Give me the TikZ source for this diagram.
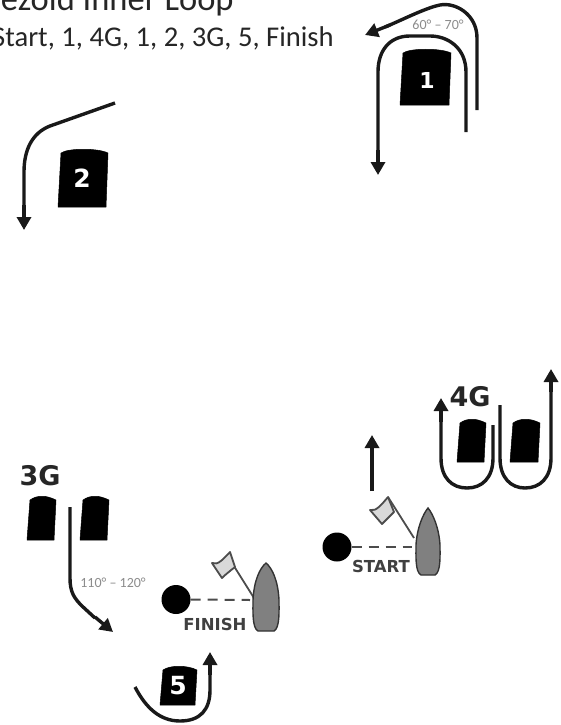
\documentclass[tikz,border=0pt]{standalone}
\usepackage{fontspec}
\setmainfont{Carlito}
\newfontfamily\markfont{DejaVu Sans}
\usetikzlibrary{arrows.meta}
\definecolor{boatgray}{gray}{0.5}
\definecolor{flaggray}{gray}{0.85}
\definecolor{anglegray}{gray}{0.55}
\tikzset{
  course/.style={line width=3.4pt,draw=black!90},
  arrowed/.style={course,-{Triangle[length=13pt,width=14pt]}},
  markshape/.style={fill=black,draw=black,line width=.5pt,line join=round},
  marknum/.style={text=white,font=\markfont\bfseries\fontsize{25}{25}\selectfont,inner sep=0pt},
  gatelabel/.style={text=black!85,font=\markfont\bfseries\fontsize{27}{27}\selectfont,inner sep=0pt},
  linelabel/.style={text=black!75,font=\markfont\bfseries\fontsize{16.5}{17}\selectfont,inner sep=0pt},
  anglelabel/.style={text=anglegray,font=\fontsize{14}{14}\selectfont,inner sep=0pt},
  titletext/.style={text=black!85,anchor=base west,inner sep=0pt},
  boat/.style={fill=boatgray,draw=black!80,line width=1.4pt},
  flag/.style={fill=flaggray,draw=black!70,line width=1.8pt,line join=round},
  pole/.style={draw=black!70,line width=1.8pt},
  lineset/.style={draw=black!70,line width=2pt,dash pattern=on 10pt off 7pt},
  pin/.style={circle,fill=black,minimum size=29pt,inner sep=0pt}
}
\newcommand{\markat}[4]{% left x, top y, right x, bottom y
  \fill[markshape] (#1+3,#4) -- (#1,#4) -- (#1+3,#2+5) .. controls (#1+10,#2) and (#3-10,#2) .. (#3,#2+5) -- (#3-2,#4) -- cycle;}
\begin{document}
\begin{tikzpicture}[x=1pt,y=-1pt]
\useasboundingbox (0,0) rectangle (560,725);
% title (cut by the page edge, as in the reference)
\node[titletext,font=\fontsize{34.5}{35}\selectfont] (title) at (-18,10.5) {Bezold Inner Loop};
\node[titletext,font=\fontsize{28.6}{29}\selectfont] (sequence) at (-8,46.5) {Start, 1, 4G, 1, 2, 3G, 5, Finish};
% mark 1
\markat{400}{48}{451}{105}
\node[marknum,font=\markfont\bfseries\fontsize{22}{22}\selectfont] (m1) at (427,80) {1};
\draw[course] (477,110) -- (477,38) .. controls (477,14) and (455,2) .. (440,5) .. controls (425,8) and (400,21) .. (385,27);
\draw[arrowed] (390,25) -- (365,35);
\draw[course] (466,132) -- (466,72) .. controls (466,48) and (448,36) .. (430,36) -- (410,36) .. controls (390,36) and (378,50) .. (378,72) -- (378,150);
\draw[arrowed] (378,150) -- (378,175);
\node[anglelabel] (a1) at (438,25) {60° – 70°};
% mark 2
\markat{58}{148}{108}{207}
\node[marknum] (m2) at (82,178) {2};
\draw[course] (115,103) -- (50,126) .. controls (32,133) and (24,150) .. (24,172) -- (24,205);
\draw[arrowed] (24,205) -- (24,230);
% gate 3G
\node[gatelabel] (g3) at (40,476) {3G};
\markat{27}{495}{56}{540}
\markat{80}{495}{109}{540}
\draw[course] (70,507) -- (70,578) .. controls (70,592) and (74,598) .. (82,606) -- (95,618);
\draw[arrowed] (95,617) -- (113,632);
\node[anglelabel] (a3) at (113,583) {110° – 120°};
% finish line
\node[pin] (fpin) at (176,599.5) {};
\coordinate (fend) at (250,600);
\draw[lineset] (fpin.east) -- (fend);
\draw[pole] (232,563) -- (254,598);
\draw[flag] (212,563) .. controls (218,566) and (224,558) .. (230,552) -- (235,567) .. controls (230,571) and (226,574) .. (222,578) -- cycle;
\draw[boat] (258,631) .. controls (252,628) and (253,610) .. (253,600) .. controls (254,580) and (260,568) .. (266,563) .. controls (272,568) and (278,580) .. (279,600) .. controls (279,610) and (280,628) .. (274,631) -- cycle;
\node[linelabel] (flabel) at (215,624) {FINISH};
% mark 5
\markat{160}{665}{197}{705}
\node[marknum] (m5) at (178,686) {5};
\draw[course] (135,687) .. controls (146,708) and (160,721) .. (180,721) .. controls (200,721) and (210,710) .. (210,690) -- (210,675);
\draw[arrowed] (210,675) -- (210,652);
% start line
\node[pin] (spin) at (337,547) {};
\coordinate (send) at (412,547);
\draw[lineset] (spin.east) -- (send);
\draw[pole] (388,497) -- (414,538);
\draw[flag] (370,510) .. controls (376,512) and (382,504) .. (388,497) -- (394,512) .. controls (390,516) and (386,520) .. (382,524) -- cycle;
\draw[boat] (421,575) .. controls (415,572) and (416,555) .. (416,545) .. controls (417,528) and (423,514) .. (428,508) .. controls (433,514) and (439,528) .. (440,545) .. controls (440,555) and (441,572) .. (435,575) -- cycle;
\node[linelabel] (slabel) at (381,566) {START};
\draw[arrowed] (372,491) -- (372,435);
% gate 4G
\node[gatelabel] (g4) at (470,397) {4G};
\markat{457}{418}{486}{462}
\markat{510}{418}{540}{462}
\draw[course] (493,425) -- (493,458) .. controls (493,478) and (482,488) .. (467,488) .. controls (452,488) and (441,478) .. (441,458) -- (441,422);
\draw[arrowed] (441,422) -- (441,398);
\draw[course] (500,405) -- (500,458) .. controls (500,478) and (511,488) .. (525,488) .. controls (540,488) and (551,478) .. (551,458) -- (551,392);
\draw[arrowed] (551,392) -- (551,369);
\end{tikzpicture}
\end{document}
